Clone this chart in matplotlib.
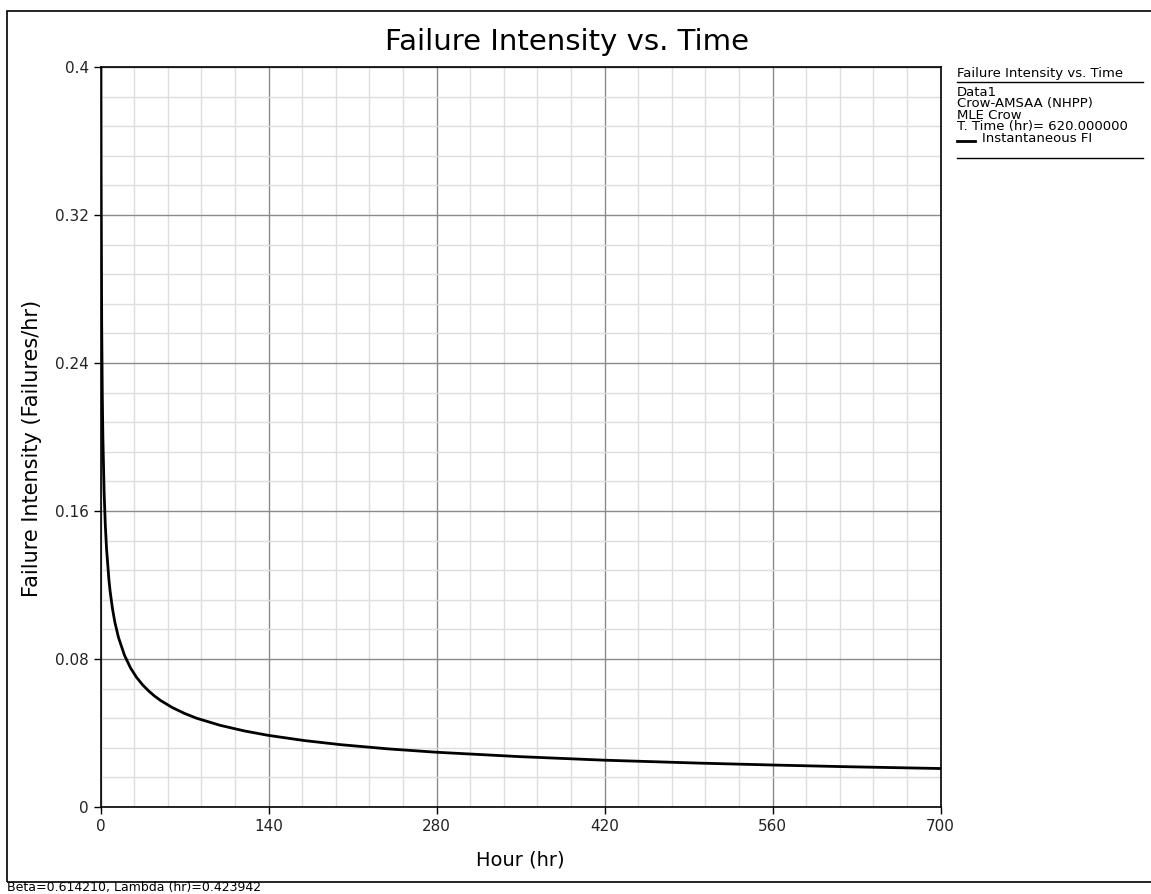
import matplotlib.pyplot as plt
from matplotlib.lines import Line2D
from matplotlib.patches import Rectangle
from matplotlib.ticker import MultipleLocator

# instantaneous failure intensity
hours = [0.3, 0.33, 0.5, 1, 1.5, 2, 3, 4, 5, 7, 8, 10, 12, 15, 20, 25, 30, 35, 40, 45,
         50, 60, 70, 80, 100, 120, 140, 170, 200, 240, 280, 350, 420, 500, 560, 620, 700]
fi = [0.4143, 0.3994, 0.3402, 0.2604, 0.2227, 0.1993, 0.1705, 0.1525, 0.1400, 0.1229,
      0.1167, 0.1071, 0.0998, 0.0916, 0.0820, 0.0752, 0.0701, 0.0661, 0.0628, 0.0600,
      0.0576, 0.0537, 0.0506, 0.0480, 0.0441, 0.0411, 0.0387, 0.0359, 0.0337, 0.0314,
      0.0296, 0.0272, 0.0253, 0.0237, 0.0227, 0.0218, 0.0208]

legend_lines = ["Data1", "Crow-AMSAA (NHPP)", "MLE Crow", "T. Time (hr)= 620.000000"]
series_name = "Instantaneous FI"
plot_title = "Failure Intensity vs. Time"
footer = "Beta=0.614210, Lambda (hr)=0.423942"

W, H = 1151, 894
fig = plt.figure(figsize=(W / 100, H / 100), dpi=100)
ax = fig.add_axes([100.5 / W, 1 - 807 / H, 840 / W, 740 / H])

ax.plot(hours, fi, color="black", lw=2, solid_joinstyle="round")
ax.set_xlim(0, 700)
ax.set_ylim(0, 0.4)
ax.xaxis.set_major_locator(MultipleLocator(140))
ax.xaxis.set_minor_locator(MultipleLocator(28))
ax.yaxis.set_major_locator(MultipleLocator(0.08))
ax.yaxis.set_minor_locator(MultipleLocator(0.016))
ax.set_yticks([0, 0.08, 0.16, 0.24, 0.32, 0.4], ["0", "0.08", "0.16", "0.24", "0.32", "0.4"])
ax.grid(which="major", color="#8a8a8a", lw=1)
ax.grid(which="minor", color="#dedede", lw=1)
ax.set_axisbelow(True)
ax.tick_params(which="major", direction="out", length=5, width=1, labelsize=11,
               colors="black", labelcolor="#222222")
ax.tick_params(which="minor", length=0)
for s in ax.spines.values():
    s.set_linewidth(1.2)
    s.set_color("black")

ax.set_xlabel("Hour (hr)", fontsize=14, labelpad=12)
ax.set_ylabel("Failure Intensity (Failures/hr)", fontsize=15)
ax.yaxis.set_label_coords(-0.07, 0.485)

fig.text(567 / W, 1 - 42 / H, plot_title, ha="center", va="center", fontsize=21)

# legend block on the right
lx = 957 / W
fs = 9.5
fig.text(lx, 1 - 67 / H, plot_title, ha="left", va="top", fontsize=fs)
fig.add_artist(Line2D([lx, 1143 / W], [1 - 81.5 / H] * 2, color="black", lw=1))
for i, t in enumerate(legend_lines):
    fig.text(lx, 1 - (86 + 11.4 * i) / H, t, ha="left", va="top", fontsize=fs, linespacing=1)
fig.add_artist(Line2D([lx, 975 / W], [1 - 141 / H] * 2, color="black", lw=2))
fig.text(982 / W, 1 - 131.5 / H, series_name, ha="left", va="top", fontsize=fs)
fig.add_artist(Line2D([lx, 1143 / W], [1 - 158 / H] * 2, color="black", lw=1))

# outer frame and footer
fig.add_artist(Rectangle((7 / W, 1 - 882 / H), 1.2, (882 - 11) / H, fill=False,
                         edgecolor="black", lw=1.2, transform=fig.transFigure))
fig.text(7 / W, 1 - 893.5 / H, footer, ha="left", va="bottom", fontsize=9)

fig.savefig("out.png", dpi=100)
